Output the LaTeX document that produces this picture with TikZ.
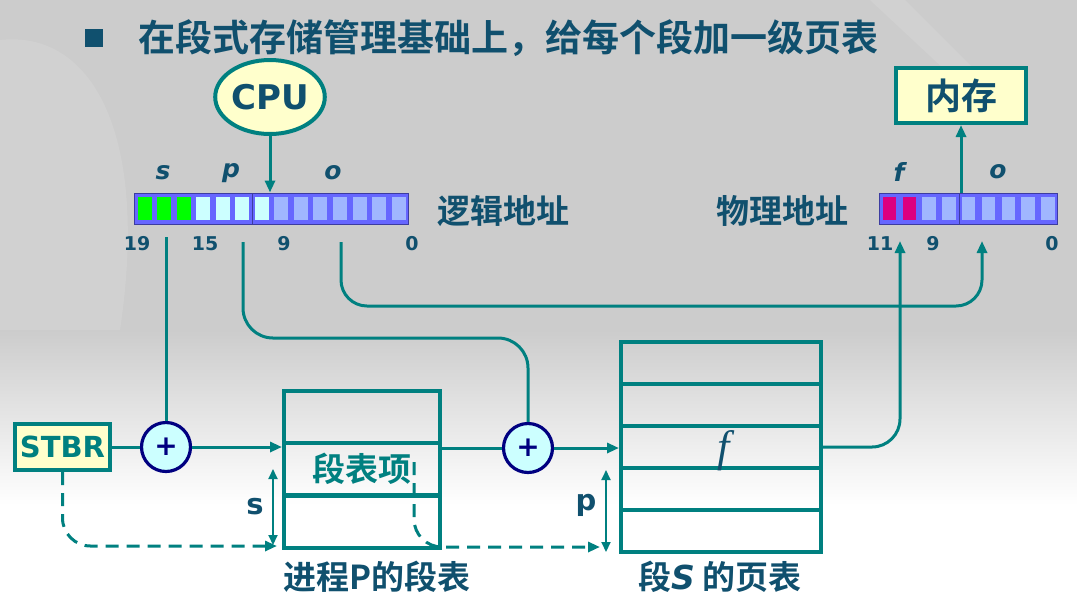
\documentclass[tikz,border=0pt]{standalone}
\usepackage{fontspec}
\setmainfont{DejaVu Sans}
\newfontfamily\cjk{Noto Sans CJK SC}[BoldFont={Noto Sans CJK SC Bold}]
\newfontfamily\frameital{Liberation Serif}
\usetikzlibrary{shapes,arrows.meta,positioning,calc}
\definecolor{tealline}{RGB}{0,128,128}
\definecolor{ink}{RGB}{16,80,110}
\definecolor{paleyellow}{RGB}{255,255,204}
\definecolor{palecyan}{RGB}{204,255,255}
\definecolor{navyring}{RGB}{0,0,128}
\definecolor{barblue}{RGB}{102,102,255}
\definecolor{barshade}{RGB}{60,60,160}
\definecolor{cellblue}{RGB}{160,182,255}
\definecolor{cellgreen}{RGB}{0,255,0}
\definecolor{cellred}{RGB}{220,0,128}
\definecolor{bgtop}{RGB}{204,204,204}

\begin{document}
\begin{tikzpicture}[x=0.5pt, y=-0.5pt,
        line/.style={draw=tealline, line width=1.5pt},
        arr/.style={line, -{Triangle[length=6pt,width=5pt]}},
        dashline/.style={line, dash pattern=on 6.5pt off 4pt, -{Triangle[length=6pt,width=5pt]}},
        dimarr/.style={draw=tealline, line width=1pt, {Triangle[length=5pt,width=4.5pt]}-{Triangle[length=5pt,width=4.5pt]}},
        yellowbox/.style={rectangle, draw=tealline, line width=2pt, fill=paleyellow, inner sep=0pt},
        adder/.style={circle, draw=navyring, line width=1.6pt, fill=palecyan, minimum size=24.5pt, inner sep=0pt, text=navyring, font=\bfseries\fontsize{14}{14}\selectfont},
        regbar/.style={rectangle, fill=barblue, draw=barshade, line width=0.5pt, minimum height=15.5pt, inner sep=0pt},
        segrow/.style={rectangle, draw=tealline, line width=2pt, minimum width=78pt, minimum height=26pt, inner sep=0pt},
        pagerow/.style={rectangle, draw=tealline, line width=2pt, minimum width=100pt, minimum height=21pt, inner sep=0pt},
        bitlbl/.style={text=ink, font=\bfseries\itshape\fontsize{12.5}{12.5}\selectfont},
        numlbl/.style={text=ink, font=\bfseries\fontsize{9.5}{9.5}\selectfont},
        cjklbl/.style={text=ink, font=\cjk\bfseries\fontsize{16.5}{16.5}\selectfont}]

    % background
    \useasboundingbox (0,0) rectangle (1077,607);
    \fill[white] (0,0) rectangle (1077,607);
    \fill[bgtop] (0,0) rectangle (1077,330);
    \shade[top color=bgtop, bottom color=white] (0,330) rectangle (1077,505);
    \fill[white, opacity=0.1] (0,40) .. controls (90,30) and (150,130) .. (120,330) -- (0,330) -- cycle;
    \fill[white, opacity=0.1] (870,0) -- (905,0) -- (975,70) -- (945,70) -- cycle;

    % title
    \node[fill=ink, minimum size=9pt, inner sep=0pt] (bullet) at (94,38) {};
    \node[anchor=west, inner sep=0pt, text=ink, font=\cjk\bfseries\fontsize{18.5}{18.5}\selectfont] (title) at (138,38) {在段式存储管理基础上，给每个段加一级页表};

    % logical address
    \node[regbar, minimum width=137pt] (laddr) at (271,208.5) {};
    \foreach \i in {0,1,2}
        \fill[cellgreen] ({137.5+\i*19.55},197) rectangle +(14,23);
    \foreach \i in {3,...,6}
        \fill[palecyan] ({137.5+\i*19.55},197) rectangle +(14,23);
    \foreach \i in {7,...,13}
        \fill[cellblue] ({137.5+\i*19.55},197) rectangle +(14,23);
    \draw[barshade, line width=0.6pt] (252.7,193) -- (252.7,224);
    \node[cjklbl, anchor=west] (lname) at (430,211) {逻辑地址};
    \node[bitlbl] (sl) at (163,173) {s};
    \node[bitlbl] (pl) at (231,173) {p};
    \node[bitlbl] (ol) at (333,173) {o};
    \node[numlbl] (n19) at (137,244) {19};
    \node[numlbl] (n15) at (205,244) {15};
    \node[numlbl] (n9) at (284,244) {9};
    \node[numlbl] (n0) at (412,244) {0};

    % physical address
    \node[regbar, minimum width=89pt] (paddr) at (968,208.5) {};
    \foreach \i in {0,1}
        \fill[cellred] ({882.7+\i*19.8},197) rectangle +(13.5,23);
    \foreach \i in {2,...,8}
        \fill[cellblue] ({882.7+\i*19.8},197) rectangle +(13.5,23);
    \draw[barshade, line width=0.6pt] (959.3,193) -- (959.3,224);
    \node[cjklbl, anchor=east] (pname) at (856,211) {物理地址};
    \node[bitlbl] (fl) at (899,172) {f};
    \node[bitlbl] (ol2) at (998,172) {o};
    \node[numlbl] (n11) at (880,244) {11};
    \node[numlbl] (n9b) at (933,244) {9};
    \node[numlbl] (n0b) at (1052,244) {0};

    % cpu and memory
    \node[ellipse, draw=tealline, line width=2pt, fill=paleyellow, minimum width=44pt, minimum height=37pt, inner sep=0pt, text=ink, font=\bfseries\fontsize{17}{17}\selectfont] (cpu) at (270,97) {CPU};
    \node[yellowbox, minimum width=65pt, minimum height=27.5pt, text=ink, font=\cjk\bfseries\fontsize{18}{18}\selectfont] (mem) at (961,95.5) {内存};

    % tables
    \node[yellowbox, minimum width=47.5pt, minimum height=23pt, text=tealline, font=\bfseries\fontsize{14.5}{14.5}\selectfont] (stbr) at (62.5,447) {STBR};
    \node[adder] (add1) at (166,447) {+};
    \node[adder] (add2) at (528,448) {+};
    \node[segrow] (seg1) at (362,417) {};
    \node[segrow, text=tealline, font=\cjk\bfseries\fontsize{16.5}{16.5}\selectfont] (seg2) at (362,469) {段表项};
    \node[segrow] (seg3) at (362,521.5) {};
    \node[pagerow] (ptab1) at (721,363) {};
    \node[pagerow] (ptab2) at (721,405) {};
    \node[pagerow] (ptab3) at (721,447) {};
    \node[pagerow] (ptab4) at (721,489) {};
    \node[pagerow] (ptab5) at (721,531) {};
    \node[text=ink, inner sep=0pt, font=\frameital\itshape\fontsize{22}{22}\selectfont] (fval) at (724,451) {f};
    \node[cjklbl] (segname) at (377,577) {进程P的段表};
    \node[cjklbl] (pagename) at (720,577) {段{\rmfamily\itshape S} 的页表};

    % connectors
    \coordinate (sbit) at (166,237);
    \coordinate (pbit) at (243,242);
    \coordinate (pturn) at (528,338);
    \coordinate (obit) at (341,242);
    \coordinate (oturn) at (982,306);
    \coordinate (oin) at (982,241);
    \coordinate (fin) at (900,241);
    \draw[arr] (cpu.south) -- (cpu.south |- laddr.north);
    \draw[arr] (paddr.north -| mem.south) -- (mem.south);
    \draw[line] (sbit) -- (add1.north);
    \draw[line, rounded corners=15pt] (pbit) |- (pturn) -- (add2.north);
    \draw[arr, rounded corners=13pt] (obit) |- (oturn) -- (oin);
    \draw[arr, rounded corners=14pt] (ptab3.east) -| (fin);
    \draw[line] (stbr) -- (add1);
    \draw[arr] (add1) -- (add1 -| seg2.west);
    \draw[line] (add2 -| seg2.east) -- (add2);
    \draw[arr] (add2) -- (add2 -| ptab3.west);

    % offsets
    \coordinate (stop) at (273,469);
    \coordinate (sbot) at (273,545);
    \coordinate (ptop) at (606,470);
    \coordinate (pbot) at (606,552);
    \draw[dimarr] (stop) -- (sbot);
    \draw[dimarr] (ptop) -- (pbot);
    \node[text=ink, font=\bfseries\fontsize{14.5}{14.5}\selectfont] (slen) at (255,507) {s};
    \node[text=ink, font=\bfseries\fontsize{14.5}{14.5}\selectfont] (plen) at (586,505) {p};
    \coordinate (sdash) at (277,546);
    \coordinate (pstart) at (414,462);
    \coordinate (pdash) at (600,547);
    \draw[dashline, rounded corners=14pt] (stbr.south) |- (sdash);
    \draw[dashline, rounded corners=14pt] (pstart) |- (pdash);
\end{tikzpicture}
\end{document}
